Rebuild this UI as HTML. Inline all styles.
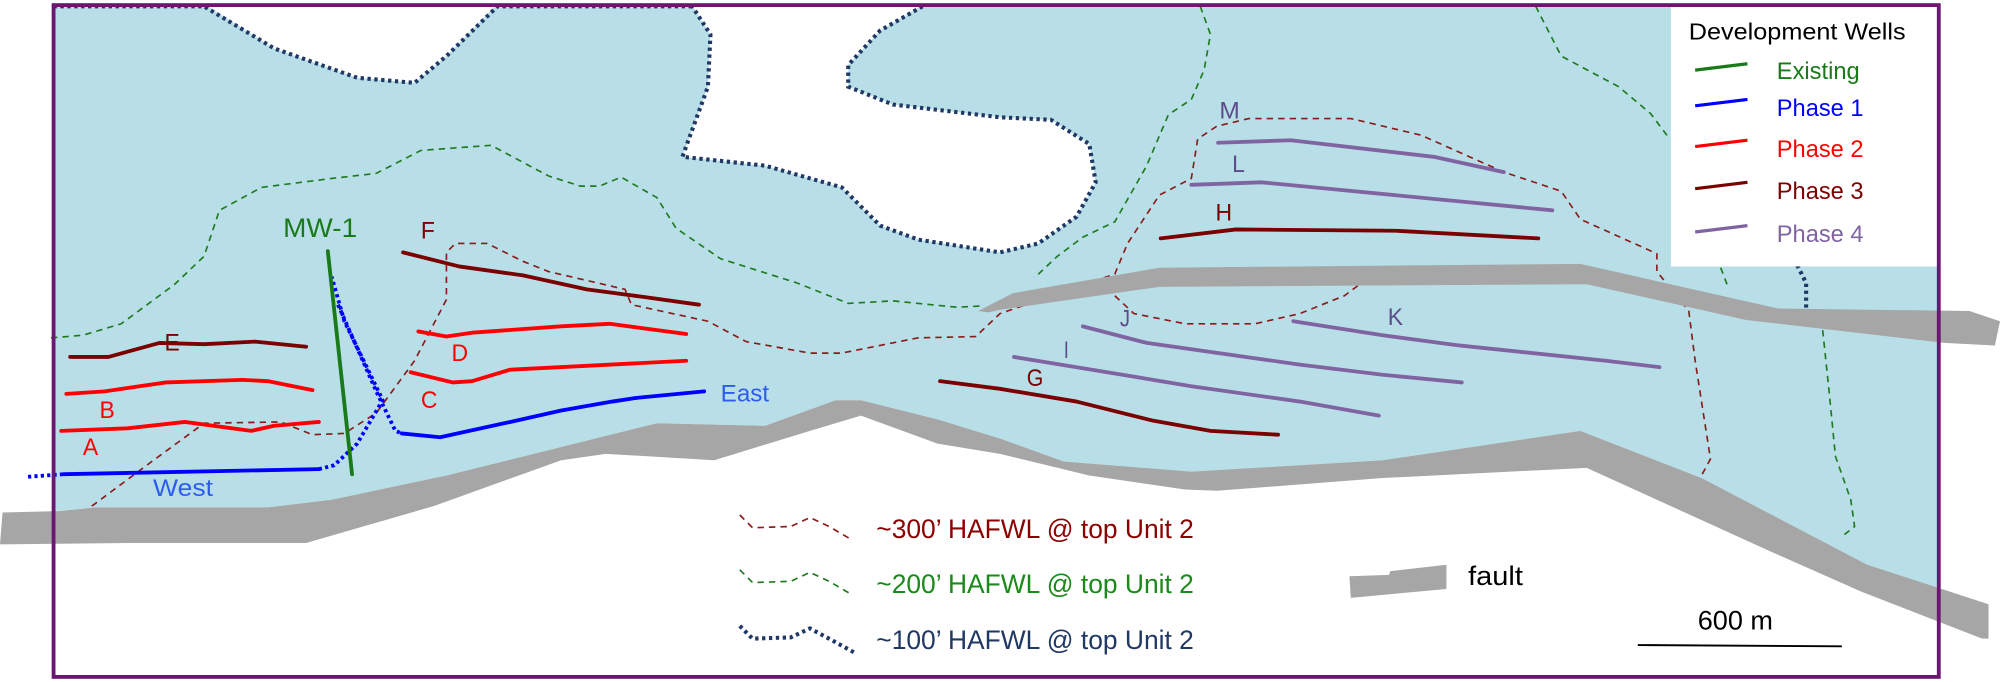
<!DOCTYPE html>
<html><head><meta charset="utf-8"><style>
html,body{margin:0;padding:0;background:#fff;}
svg{display:block;}
text{font-family:"Liberation Sans",sans-serif;}
</style></head><body>
<svg width="2000" height="682" viewBox="0 0 1568 535" preserveAspectRatio="none" xmlns="http://www.w3.org/2000/svg">
<rect x="0" y="0" width="1568" height="535" fill="#fff"/>
<rect x="42" y="4" width="1478" height="527" fill="#b8dfe8"/>
<!-- white top regions -->
<polygon points="160,3 215,38 280,61 325,65 350,44 390,3" fill="#fff"/>
<polyline points="42,5 160,5 215,38 280,61 325,65 350,44 390,5 542,5" fill="none" stroke="#203864" stroke-width="3.2" stroke-dasharray="2.6,2.8"/>
<polygon points="542,3 557,27 555,68 535,123 600,130 660,147 690,177 720,188 784,198 814,191 844,170 859,143 854,113 824,94 784,92 700,82 665,68 665,51 690,24 725,3" fill="#fff"/>
<polyline points="542,4 557,27 555,68 535,123 600,130 660,147 690,177 720,188 784,198 814,191 844,170 859,143 854,113 824,94 784,92 700,82 665,68 665,51 690,24 725,4" fill="none" stroke="#203864" stroke-width="3.2" stroke-dasharray="2.6,2.8"/>
<polyline points="1409,208 1416,222 1416,242" fill="none" stroke="#203864" stroke-width="3.2" stroke-dasharray="2.6,2.8"/>
<!-- white bottom -->
<polygon points="42,401 75,398 210,398 260,392 350,373 515,332 600,334 655,314 675,314 735,329 784,344 834,362 934,370 1084,361 1239,338 1334,375 1464,443 1520,468 1520,535 42,535" fill="#fff"/>
<!-- 300' dashed -->
<g fill="none" stroke="#8b1a1a" stroke-width="1.3" stroke-dasharray="5,4">
<polyline points="72,397 115,365 160,332 220,331 245,341 270,340 295,324 325,283 350,235 350,198 357,191 382,191 410,205 430,213 490,227 495,239 555,252 585,268 635,277 660,277 690,271 720,265 765,264 784,246 874,215 884,191 909,153 934,140 939,109 954,99 979,93 1059,93 1114,106 1179,135 1224,150 1239,172 1299,199 1299,213 1324,244 1329,283 1341,360 1334,373"/>
<polyline points="874,232 889,246 929,254 984,254 1019,246 1054,232 1066,223"/>
</g>
<!-- 200' dashed -->
<g fill="none" stroke="#1f7a1f" stroke-width="1.3" stroke-dasharray="5,4">
<polyline points="40,265 65,263 95,254 137,223 160,201 172,165 205,147 260,140 295,136 330,118 385,114 430,138 455,146 470,146 487,139 515,155 530,179 565,203 625,222 665,238 700,236 750,241 770,240"/>
<polyline points="941,5 949,27 944,55 934,78 916,90 899,130 874,174 849,186 829,201 811,218"/>
<polyline points="1204,5 1224,44 1269,68 1294,89 1309,109"/>
<polyline points="1349,210 1354,223"/>
<polyline points="1429,259 1434,307 1439,358 1451,392 1454,413 1444,421"/>
</g>
<!-- faults -->
<polygon points="2,402 45,401 75,398 210,398 260,392 350,373 515,332 600,334 655,314 675,314 735,329 784,344 834,362 934,370 1084,361 1239,338 1334,375 1464,443 1559,474 1559,501 1554,501 1459,464 1389,433 1244,367 1084,375 954,385 929,384 854,373 784,356 735,348 675,326 635,338 560,361 475,356 440,361 390,379 340,397 240,426 100,426 0,427" fill="#a6a6a6"/>
<polygon points="767,244 794,230 909,210 1239,207 1394,242 1544,244 1568,252 1564,271 1524,269 1369,251 1244,223 909,225 784,243 775,245" fill="#a6a6a6"/>
<!-- wells -->
<g fill="none" stroke-width="3" stroke-linejoin="round" stroke-linecap="round">
<polyline points="55,280 85,280 125,269 160,270 200,268 240,272" stroke="#7b0000"/>
<polyline points="52,309 82,307 130,300 190,298 210,299 245,306" stroke="#ff0000"/>
<polyline points="48,338 100,336 145,331 197,338 215,334 250,331" stroke="#ff0000"/>
<polyline points="316,198 360,209 410,216 460,227 505,233 548,239" stroke="#7b0000"/>
<polyline points="328,260 350,264 370,261 440,256 478,254 538,262" stroke="#ff0000"/>
<polyline points="322,292 355,300 370,299 400,290 538,283" stroke="#ff0000"/>
<polyline points="50,372 250,368" stroke="#0000ff"/>
<polyline points="315,340 345,343 400,331 440,322 480,315 500,312 552,307" stroke="#0000ff"/>
<polyline points="22,374 50,372" stroke="#0000ff" stroke-dasharray="2.5,2.5" stroke-linecap="butt"/>
<polyline points="250,368 262,365 280,348 300,314 290,293 270,252 260,217" stroke="#0000ff" stroke-dasharray="2.5,2.5" stroke-linecap="butt"/>
<polyline points="265,239 280,273 295,307 310,338 315,340" stroke="#0000ff" stroke-dasharray="2.5,2.5" stroke-linecap="butt"/>
<polyline points="257,197 276,372" stroke="#1a7a1a"/>
<polyline points="955,112 1012,110 1124,123 1179,135" stroke="#8064a2"/>
<polyline points="934,145 989,143 1134,157 1217,165" stroke="#8064a2"/>
<polyline points="910,187 969,180 1094,181 1206,187" stroke="#7b0000"/>
<polyline points="849,256 899,269 1019,286 1084,294 1146,300" stroke="#8064a2"/>
<polyline points="1014,252 1084,263 1144,271 1259,283 1301,288" stroke="#8064a2"/>
<polyline points="795,280 874,293 934,303 1019,315 1081,326" stroke="#8064a2"/>
<polyline points="737,299 784,305 844,315 904,330 949,338 1002,341" stroke="#7b0000"/>
</g>
<!-- well labels -->
<g font-size="19">
<text x="129" y="275" fill="#7b0000" textLength="12" lengthAdjust="spacingAndGlyphs">E</text>
<text x="78" y="328" fill="#ff0000" textLength="12" lengthAdjust="spacingAndGlyphs">B</text>
<text x="65" y="357" fill="#ff0000" textLength="12" lengthAdjust="spacingAndGlyphs">A</text>
<text x="330" y="187" fill="#7b0000" textLength="11" lengthAdjust="spacingAndGlyphs">F</text>
<text x="354" y="283" fill="#ff0000" textLength="13" lengthAdjust="spacingAndGlyphs">D</text>
<text x="330" y="320" fill="#ff0000" textLength="13" lengthAdjust="spacingAndGlyphs">C</text>
<text x="120" y="389" fill="#2e5cf0" textLength="47" lengthAdjust="spacingAndGlyphs">West</text>
<text x="565" y="315" fill="#2e5cf0" textLength="38" lengthAdjust="spacingAndGlyphs">East</text>
<text x="222" y="186" fill="#1a7a1a" font-size="21" textLength="58" lengthAdjust="spacingAndGlyphs">MW-1</text>
<text x="956" y="93" fill="#5f4b8b" textLength="16" lengthAdjust="spacingAndGlyphs">M</text>
<text x="966" y="135" fill="#5f4b8b" textLength="10" lengthAdjust="spacingAndGlyphs">L</text>
<text x="953" y="173" fill="#7b0000" textLength="13" lengthAdjust="spacingAndGlyphs">H</text>
<text x="878" y="256" fill="#5f4b8b" textLength="8" lengthAdjust="spacingAndGlyphs">J</text>
<text x="1088" y="255" fill="#5f4b8b" textLength="12" lengthAdjust="spacingAndGlyphs">K</text>
<text x="834" y="281" fill="#5f4b8b" textLength="4" lengthAdjust="spacingAndGlyphs">I</text>
<text x="805" y="303" fill="#7b0000" textLength="13" lengthAdjust="spacingAndGlyphs">G</text>
</g>
<!-- legend box -->
<rect x="1310" y="4" width="210" height="205" fill="#fff"/>
<text x="1324" y="31" font-size="18" fill="#000" textLength="170" lengthAdjust="spacingAndGlyphs">Development Wells</text>
<g stroke-width="2.5">
<line x1="1329" y1="55" x2="1370" y2="50" stroke="#1a7a1a"/>
<line x1="1329" y1="83" x2="1370" y2="78" stroke="#0000ff"/>
<line x1="1329" y1="115" x2="1370" y2="110" stroke="#ff0000"/>
<line x1="1329" y1="148" x2="1370" y2="143" stroke="#7b0000"/>
<line x1="1329" y1="182" x2="1370" y2="177" stroke="#8064a2"/>
</g>
<g font-size="19">
<text x="1393" y="62" fill="#1a7a1a" textLength="65" lengthAdjust="spacingAndGlyphs">Existing</text>
<text x="1393" y="91" fill="#0000ff" textLength="68" lengthAdjust="spacingAndGlyphs">Phase 1</text>
<text x="1393" y="123" fill="#ff0000" textLength="68" lengthAdjust="spacingAndGlyphs">Phase 2</text>
<text x="1393" y="156" fill="#7b0000" textLength="68" lengthAdjust="spacingAndGlyphs">Phase 3</text>
<text x="1393" y="190" fill="#8064a2" textLength="68" lengthAdjust="spacingAndGlyphs">Phase 4</text>
</g>
<!-- bottom legend -->
<polyline points="580,404 590,414 620,413 635,406 650,413 667,423" fill="none" stroke="#8b1a1a" stroke-width="1.3" stroke-dasharray="5,4"/>
<polyline points="580,447 590,457 620,456 635,449 650,456 667,466" fill="none" stroke="#1f7a1f" stroke-width="1.3" stroke-dasharray="5,4"/>
<polyline points="580,491 590,501 620,500 635,493 650,501 670,512" fill="none" stroke="#203864" stroke-width="3.2" stroke-dasharray="2.6,2.8"/>
<g font-size="21">
<text x="687" y="422" fill="#8b0000" textLength="249" lengthAdjust="spacingAndGlyphs">~300’ HAFWL @ top Unit 2</text>
<text x="687" y="465" fill="#1a8a1a" textLength="249" lengthAdjust="spacingAndGlyphs">~200’ HAFWL @ top Unit 2</text>
<text x="687" y="509" fill="#203864" textLength="249" lengthAdjust="spacingAndGlyphs">~100’ HAFWL @ top Unit 2</text>
<text x="1151" y="459" fill="#000" textLength="43" lengthAdjust="spacingAndGlyphs">fault</text>
<text x="1331" y="494" fill="#000" textLength="59" lengthAdjust="spacingAndGlyphs">600 m</text>
</g>
<polygon points="1058,452 1089,451 1090,448 1134,443 1134,462 1059,469" fill="#a6a6a6"/>
<line x1="1284" y1="506" x2="1444" y2="507" stroke="#000" stroke-width="1.5"/>
<!-- border -->
<rect x="42" y="4" width="1478" height="527" fill="none" stroke="#6b1670" stroke-width="3"/>
</svg>
</body></html>
